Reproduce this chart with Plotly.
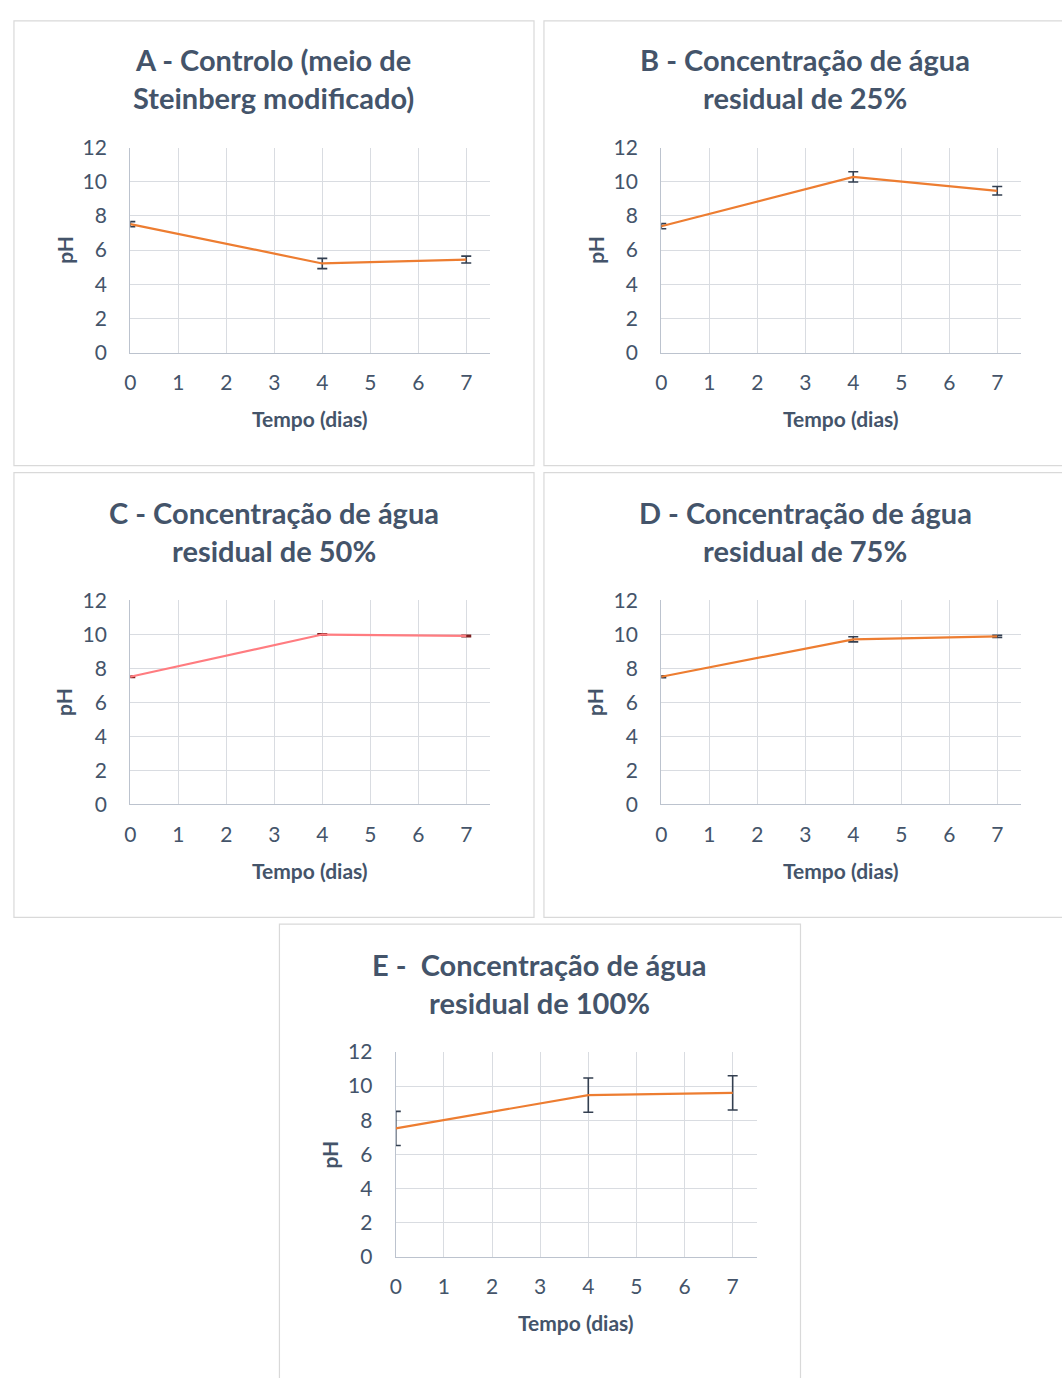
import plotly.graph_objects as go

W, H = 1062, 1378

days = [0, 4, 7]
ph_A = [7.52, 5.22, 5.45]
err_A = [0.15, 0.30, 0.20]
ph_B = [7.40, 10.28, 9.47]
err_B = [0.15, 0.30, 0.25]
ph_C = [7.50, 9.98, 9.90]
err_C = [0.04, 0.04, 0.04]
ph_D = [7.50, 9.70, 9.87]
err_D = [0.05, 0.15, 0.06]
ph_E = [7.52, 9.47, 9.60]
err_E = [1.00, 1.00, 1.00]

titles = [
    "A - Controlo (meio de<br>Steinberg modificado)",
    "B - Concentração de água<br>residual de 25%",
    "C - Concentração de água<br>residual de 50%",
    "D - Concentração de água<br>residual de 75%",
    "E -  Concentração de água<br>residual de 100%",
]
x_title = "Tempo (dias)"
y_title = "pH"
x_ticks = [0, 1, 2, 3, 4, 5, 6, 7]
y_ticks = [0, 2, 4, 6, 8, 10, 12]

series = [ph_A, ph_B, ph_C, ph_D, ph_E]
errors = [err_A, err_B, err_C, err_D, err_E]
line_colors = ["#ED7D31", "#ED7D31", "#FF7C80", "#ED7D31", "#ED7D31"]
err_colors = ["#333F50", "#333F50", "#7B2020", "#333F50", "#333F50"]

# pixel layout: plot area (x0, x1, ytop, ybottom), panel box (x0, y0, x1, y1)
plots = [
    (125, 487, 136, 345),
    (659, 1021, 136, 345),
    (125, 487, 597, 805),
    (659, 1021, 597, 805),
    (392, 755, 1057, 1266),
]
panels = [
    (8, 7, 531, 460),
    (541, 7, 1070, 460),
    (8, 467, 531, 920),
    (541, 467, 1070, 920),
    (275, 927, 799, 1390),
]
title_y = [(46, 85), (46, 85), (508, 546), (508, 546), (968, 1007)]
title_x = [269, 804, 270, 804, 537]

FONT = "Lato, 'Open Sans', sans-serif"
TXT = "#44546A"

def px(x):
    return x / W

def py(y):
    return 1 - y / H

fig = go.Figure()
layout = dict(
    width=W, height=H, margin=dict(l=0, r=0, t=0, b=0),
    paper_bgcolor="white", plot_bgcolor="white", showlegend=False,
    font=dict(family=FONT, color=TXT),
)
annotations = []
shapes = []

for i in range(5):
    n = "" if i == 0 else str(i + 1)
    x0, x1, yt, yb = plots[i]
    fig.add_trace(go.Scatter(
        x=days, y=series[i], mode="lines",
        line=dict(color=line_colors[i], width=2.2),
        error_y=dict(type="data", array=errors[i], visible=True,
                     color=err_colors[i], thickness=1.6, width=5),
        xaxis="x" + n, yaxis="y" + n, hoverinfo="x+y",
    ))
    layout["xaxis" + n] = dict(
        domain=[px(x0), px(x1)], range=[0, 7.5], anchor="y" + n,
        tickvals=x_ticks, showgrid=True, gridcolor="#D9DCE1", gridwidth=1,
        showline=True, linecolor="#BCC3CE", linewidth=1.2, zeroline=False,
        ticks="", ticklabelstandoff=11,
        tickfont=dict(size=21, color=TXT, family=FONT),
        fixedrange=True,
    )
    layout["yaxis" + n] = dict(
        domain=[py(yb), py(yt)], range=[0, 12], anchor="x" + n,
        tickvals=y_ticks, showgrid=True, gridcolor="#D9DCE1", gridwidth=1,
        showline=True, linecolor="#BCC3CE", linewidth=1.2, zeroline=False,
        ticks="", ticklabelstandoff=18,
        tickfont=dict(size=21, color=TXT, family=FONT),
        fixedrange=True,
    )
    bx0, by0, bx1, by1 = panels[i]
    shapes.append(dict(type="rect", xref="paper", yref="paper",
                       x0=px(bx0), x1=px(bx1), y0=py(by1), y1=py(by0),
                       line=dict(color="#D9D9D9", width=1.2), fillcolor="rgba(0,0,0,0)",
                       layer="below"))
    l1, l2 = titles[i].split("<br>")
    for txt, yy in zip((l1, l2), title_y[i]):
        annotations.append(dict(text="<b>" + txt + "</b>", x=px(title_x[i]), y=py(yy),
                                xref="paper", yref="paper", showarrow=False,
                                xanchor="center", yanchor="middle",
                                font=dict(size=29, color=TXT, family=FONT)))
    annotations.append(dict(text="<b>" + x_title + "</b>", x=px((x0 + x1) / 2), y=py(yb + 67),
                            xref="paper", yref="paper", showarrow=False,
                            xanchor="center", yanchor="middle",
                            font=dict(size=21, color=TXT, family=FONT)))
    annotations.append(dict(text="<b>" + y_title + "</b>", x=px(x0 - 67), y=py((yt + yb) / 2),
                            xref="paper", yref="paper", showarrow=False, textangle=-90,
                            xanchor="center", yanchor="middle",
                            font=dict(size=21, color=TXT, family=FONT)))

layout["annotations"] = annotations
layout["shapes"] = shapes
fig.update_layout(**layout)
fig.write_html("out.html")
